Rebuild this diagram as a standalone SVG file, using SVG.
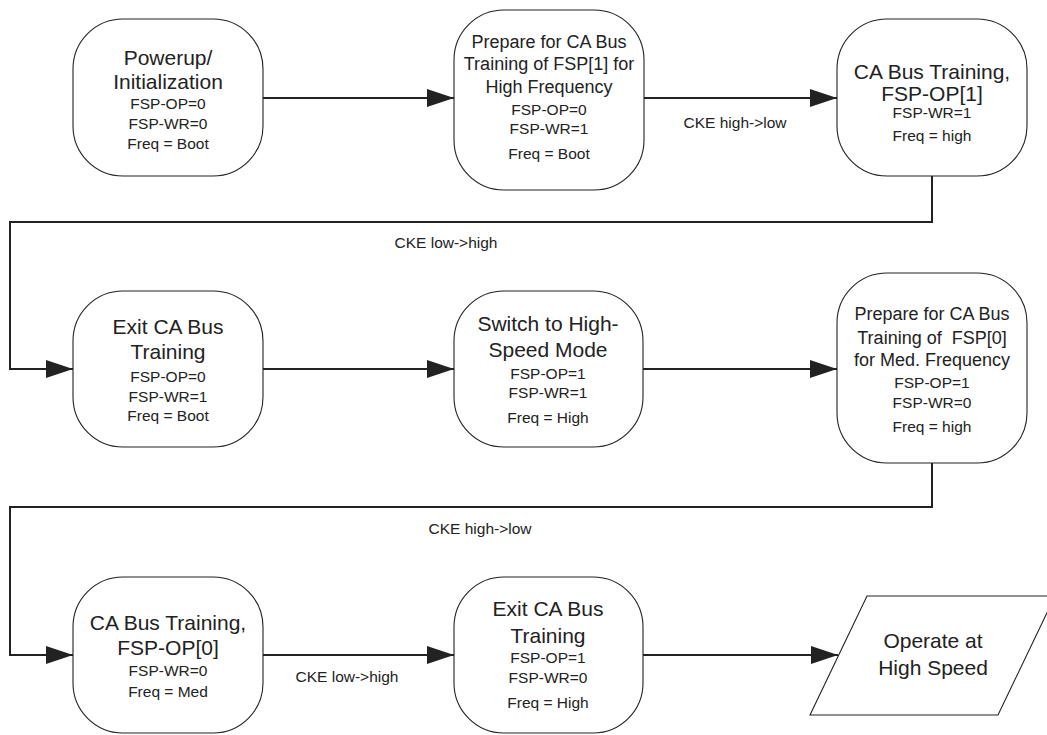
<svg xmlns="http://www.w3.org/2000/svg" width="1047" height="735" viewBox="0 0 1047 735">
<defs>
<style>
.n{fill:#fff;stroke:#222;stroke-width:1.1}
.c{fill:none;stroke:#222;stroke-width:2}
text{font-family:"Liberation Sans",Arial,sans-serif;fill:#222;text-anchor:middle;dominant-baseline:central}
.t{font-size:21px}
.m{font-size:18px}
.s{font-size:15.5px}
.l{font-size:15.5px}
</style>
<marker id="ah" markerUnits="userSpaceOnUse" markerWidth="28" markerHeight="18" refX="27" refY="9" orient="auto">
<path d="M0,0 L27,9 L0,18 Z" fill="#222"/>
</marker>
</defs>
<rect width="1047" height="735" fill="#fff"/>
<g id="connectors">
<path class="c" d="M263,98 H454" marker-end="url(#ah)"/>
<path class="c" d="M644,98 H837" marker-end="url(#ah)"/>
<path class="c" d="M932,176 V222 H10 V369 H73" marker-end="url(#ah)"/>
<path class="c" d="M263,369 H454" marker-end="url(#ah)"/>
<path class="c" d="M643,369 H837" marker-end="url(#ah)"/>
<path class="c" d="M932,463 V507 H10 V655 H73" marker-end="url(#ah)"/>
<path class="c" d="M263,655 H454" marker-end="url(#ah)"/>
<path class="c" d="M643,655 H838" marker-end="url(#ah)"/>
<text class="l" x="735" y="122">CKE high-&gt;low</text>
<text class="l" x="446" y="242">CKE low-&gt;high</text>
<text class="l" x="480" y="528">CKE high-&gt;low</text>
<text class="l" x="347" y="676">CKE low-&gt;high</text>
</g>
<g id="n1">
<rect class="n" x="73" y="19" width="190" height="157" rx="50"/>
<text class="t" x="168" y="57">Powerup/</text>
<text class="t" x="168" y="81">Initialization</text>
<text class="s" x="168" y="103">FSP-OP=0</text>
<text class="s" x="168" y="123">FSP-WR=0</text>
<text class="s" x="168" y="143">Freq = Boot</text>
</g>
<g id="n2">
<rect class="n" x="454" y="10" width="190" height="180" rx="50"/>
<text class="m" x="549" y="42">Prepare for CA Bus</text>
<text class="m" x="549" y="64">Training of FSP[1] for</text>
<text class="m" x="549" y="87">High Frequency</text>
<text class="s" x="549" y="109">FSP-OP=0</text>
<text class="s" x="549" y="128">FSP-WR=1</text>
<text class="s" x="549" y="153">Freq = Boot</text>
</g>
<g id="n3">
<rect class="n" x="837" y="19" width="190" height="157" rx="50"/>
<text class="t" x="932" y="71">CA Bus Training,</text>
<text class="t" x="932" y="93">FSP-OP[1]</text>
<text class="s" x="932" y="112">FSP-WR=1</text>
<text class="s" x="932" y="135">Freq = high</text>
</g>
<g id="n4">
<rect class="n" x="73" y="291" width="190" height="156" rx="50"/>
<text class="t" x="168" y="326">Exit CA Bus</text>
<text class="t" x="168" y="351">Training</text>
<text class="s" x="168" y="376">FSP-OP=0</text>
<text class="s" x="168" y="396">FSP-WR=1</text>
<text class="s" x="168" y="415">Freq = Boot</text>
</g>
<g id="n5">
<rect class="n" x="454" y="291" width="189" height="156" rx="50"/>
<text class="t" x="548" y="323">Switch to High-</text>
<text class="t" x="548" y="349">Speed Mode</text>
<text class="s" x="548" y="373">FSP-OP=1</text>
<text class="s" x="548" y="392">FSP-WR=1</text>
<text class="s" x="548" y="417">Freq = High</text>
</g>
<g id="n6">
<rect class="n" x="837" y="273" width="190" height="190" rx="50"/>
<text class="m" x="932" y="314">Prepare for CA Bus</text>
<text class="m" x="932" y="338" xml:space="preserve">Training of  FSP[0]</text>
<text class="m" x="932" y="360">for Med. Frequency</text>
<text class="s" x="932" y="382">FSP-OP=1</text>
<text class="s" x="932" y="402">FSP-WR=0</text>
<text class="s" x="932" y="426">Freq = high</text>
</g>
<g id="n7">
<rect class="n" x="73" y="577" width="190" height="156" rx="50"/>
<text class="t" x="168" y="622">CA Bus Training,</text>
<text class="t" x="168" y="647">FSP-OP[0]</text>
<text class="s" x="168" y="670">FSP-WR=0</text>
<text class="s" x="168" y="691">Freq = Med</text>
</g>
<g id="n8">
<rect class="n" x="454" y="577" width="189" height="156" rx="50"/>
<text class="t" x="548" y="608">Exit CA Bus</text>
<text class="t" x="548" y="635">Training</text>
<text class="s" x="548" y="657">FSP-OP=1</text>
<text class="s" x="548" y="677">FSP-WR=0</text>
<text class="s" x="548" y="702">Freq = High</text>
</g>
<g id="n9">
<path class="n" d="M867,596 H1055 L998,715 H810 Z"/>
<text class="t" x="933" y="640">Operate at</text>
<text class="t" x="933" y="667">High Speed</text>
</g>
</svg>
